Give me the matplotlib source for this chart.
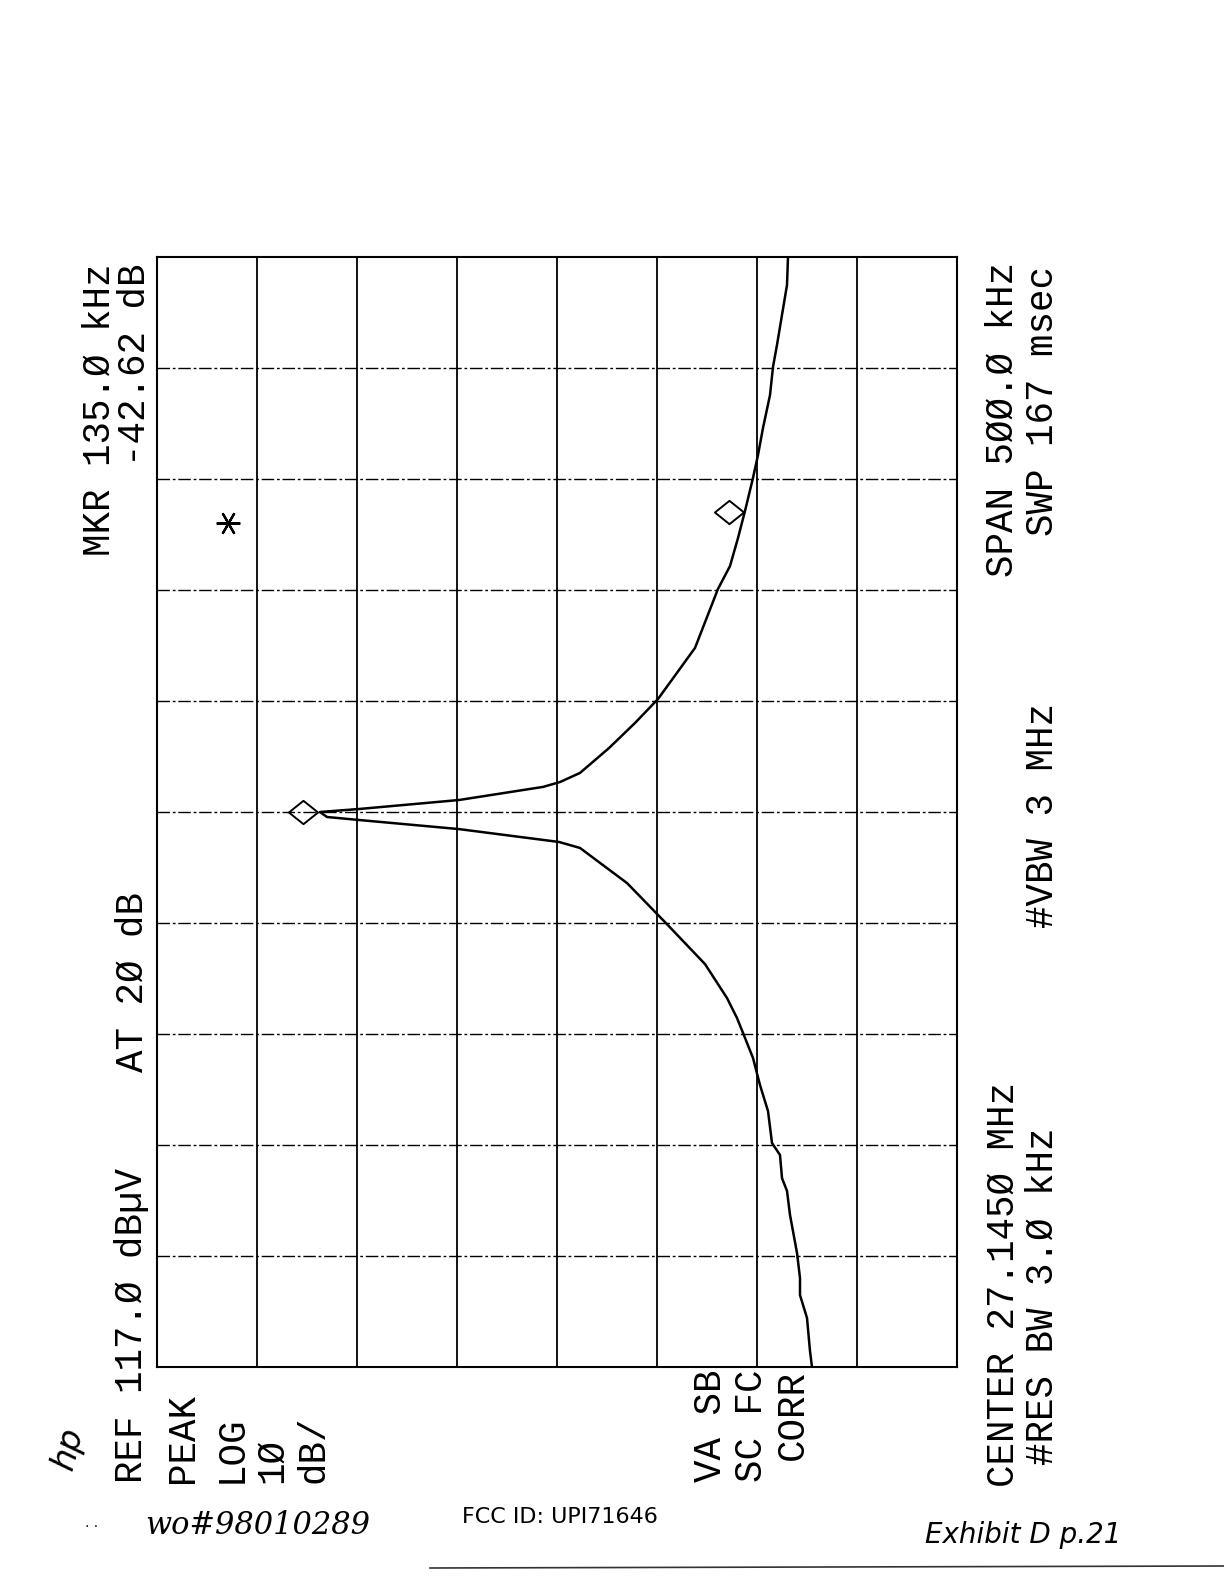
import matplotlib
matplotlib.use('Agg')
import matplotlib.pyplot as plt
from matplotlib.path import Path

W, H = 1224, 1584

# spectrum analyser settings (screen is rotated 90 deg on the page)
ref_level = 117.0      # dBuV, left edge
db_per_div = 10
n_amp_div = 8
span_khz = 500.0
n_freq_div = 10

# trace: frequency offset from centre (kHz) and level (dBuV)
freq_khz = [-250, -242.8, -227.9, -217.6, -209.9, -198.6, -181.5, -170.7, -164.9,
            -154.5, -149.1, -134.7, -123.0, -110.8, -99.5, -92.8, -83.8, -68.5,
            -49.6, -32.0, -16.2, -13.5, -7.7, -3.6, -2.25, 0, 1.35, 5.4, 11.3,
            13.5, 17.6, 28.8, 40.1, 50.9, 73.9, 100.5, 110.8, 123.4, 135.6, 150.5,
            160.8, 173.0, 187.8, 200.5, 210.4, 223.9, 237.4, 250]
level_dbuv = [51.5, 51.7, 52.0, 52.7, 52.7, 53.0, 53.7, 54.0, 54.5,
              54.7, 55.5, 55.9, 56.7, 57.4, 58.4, 59.0, 60.0, 62.2,
              66.2, 70.0, 74.7, 76.8, 86.8, 96.8, 100.0, 100.7, 96.8, 86.8, 78.4,
              76.7, 74.7, 71.8, 69.2, 66.9, 63.2, 60.9, 59.7, 58.9, 58.2, 57.4,
              56.9, 56.4, 55.7, 55.4, 55.0, 54.5, 54.0, 53.9]

# marker diamonds (peak and MKR 135 kHz) as drawn
mkr_freq = [0, 135]
mkr_level = [102.4, 59.8]
star_freq = [130]
star_level = [109.9]


def px(x, y):
    return x / W, 1 - y / H


fig = plt.figure(figsize=(W / 100, H / 100), dpi=100)
fig.patch.set_facecolor('white')

l, b = px(157, 1367)
ax = fig.add_axes([l, b, 800 / W, 1110 / H])
bottom_level = ref_level - db_per_div * n_amp_div
ax.set_xlim(ref_level, bottom_level)
ax.set_ylim(-span_khz / 2, span_khz / 2)
ax.set_xticks([])
ax.set_yticks([])
for s in ax.spines.values():
    s.set_linewidth(1.5)
    s.set_color('black')

for i in range(1, n_amp_div):
    ax.axvline(ref_level - i * db_per_div, color='black', lw=1.3)
for i in range(1, n_freq_div):
    ax.axhline(-span_khz / 2 + i * span_khz / n_freq_div, color='black', lw=1.0,
               linestyle=(0, (9, 2, 2, 2)))

ax.plot(level_dbuv, freq_khz, color='black', lw=1.8)

diamond = Path([(-1, 0), (0, 0.8), (1, 0), (0, -0.8), (-1, 0)],
               [Path.MOVETO, Path.LINETO, Path.LINETO, Path.LINETO, Path.CLOSEPOLY])
ax.plot(mkr_level, mkr_freq, linestyle='none', marker=diamond, markersize=21,
        markerfacecolor='none', markeredgecolor='black', markeredgewidth=1.4)
ax.plot(star_level, star_freq, linestyle='none', marker=(6, 2, 90), markersize=17,
        color='black', markeredgewidth=1.6)

mono = dict(family='Liberation Mono', fontsize=27, rotation=90, color='black')


def vtext(x, y, s, va):
    fig.text(*px(x + 4, y), s, ha='center', va=va, **mono)


vtext(96, 263, 'MKR 135.Ø kHz', 'top')
vtext(131, 263, '-42.62 dB', 'top')
vtext(128, 1483, 'REF 117.Ø dBµV', 'bottom')
vtext(129, 1072, 'AT 2Ø dB', 'bottom')
vtext(179, 1483, 'PEAK', 'bottom')
vtext(228, 1483, 'LOG', 'bottom')
vtext(268, 1483, '1Ø', 'bottom')
vtext(309, 1483, 'dB/', 'bottom')
vtext(707, 1482, 'VA SB', 'bottom')
vtext(748, 1482, 'SC FC', 'bottom')
vtext(789, 1460, 'CORR', 'bottom')
vtext(1000, 1487, 'CENTER 27.145Ø MHz', 'bottom')
vtext(1039, 1465, '#RES BW 3.Ø kHz', 'bottom')
vtext(1039, 928, '#VBW 3 MHz', 'bottom')
vtext(999, 262, 'SPAN 5ØØ.Ø kHz', 'top')
vtext(1039, 266, 'SWP 167 msec', 'top')

# hp logo and handwritten notes
fig.text(*px(68, 1448), 'hp', rotation=75, fontsize=24, style='italic',
         ha='center', va='center', family='DejaVu Sans')
fig.text(*px(92, 1527), '· ·', fontsize=10, ha='center', va='center')
fig.text(*px(145, 1525), 'wo#98010289', fontsize=22, style='italic',
         ha='left', va='center', family='DejaVu Serif')
fig.text(*px(462, 1517), 'FCC ID: UPI71646', fontsize=16,
         ha='left', va='center', family='DejaVu Sans')
fig.text(*px(925, 1535), 'Exhibit D p.21', fontsize=20,
         ha='left', va='center', family='DejaVu Sans', style='italic')
fig.add_artist(plt.Line2D([430 / W, 1.0], [1 - 1568 / H, 1 - 1566 / H],
                          color='black', lw=1.2, alpha=0.8))

fig.savefig('out.png', dpi=100, facecolor='white')
